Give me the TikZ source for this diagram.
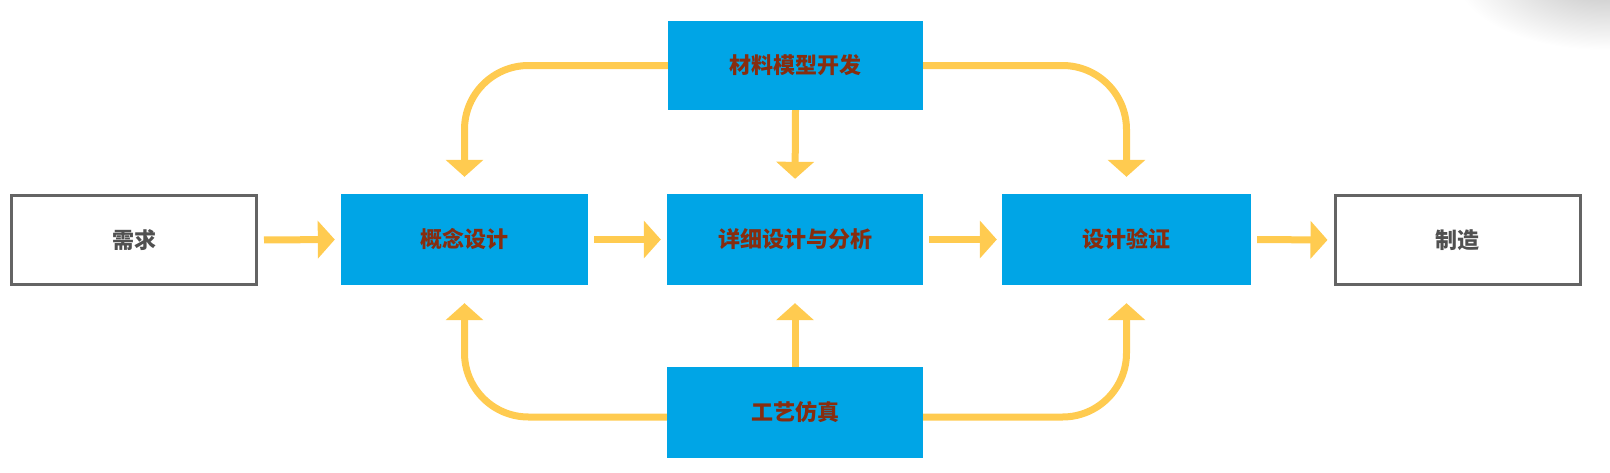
\documentclass[tikz,border=0pt]{standalone}
\usepackage{fontspec}
\setmainfont{Noto Sans CJK SC}
\usetikzlibrary{arrows.meta}
\definecolor{boxblue}{RGB}{0,165,230}
\definecolor{txtred}{RGB}{135,45,15}
\definecolor{arrowyel}{RGB}{255,203,80}
\definecolor{edgegray}{RGB}{100,100,100}
\definecolor{txtgray}{RGB}{80,80,80}
\begin{document}
\begin{tikzpicture}[x=1pt,y=-1pt,
  bluebox/.style={fill=boxblue,draw=none,inner sep=0pt,minimum width=#1,minimum height=91pt,
    font=\fontsize{22pt}{25pt}\selectfont\bfseries,text=txtred},
  graybox/.style={draw=edgegray,line width=3pt,fill=white,inner sep=0pt,minimum width=245pt,minimum height=89pt,
    font=\fontsize{22pt}{25pt}\selectfont\bfseries,text=txtgray},
  arr/.style={draw=arrowyel,line width=7pt,-{Triangle[width=37pt,length=17pt]}}
]
\useasboundingbox (0,0) rectangle (1610,472);
\begin{scope}
\clip (0,0) rectangle (1610,472);
\shade[inner color=black!25,outer color=white] (1605,-25) ellipse [x radius=150, y radius=75];
\end{scope}
\node[graybox] (xq) at (134,240) {需求};
\node[bluebox=247pt] (gn) at (464.5,239.5) {概念设计};
\node[bluebox=256pt] (xx) at (795,239.5) {详细设计与分析};
\node[bluebox=249pt] (yz) at (1126.5,239.5) {设计验证};
\node[graybox] (zz) at (1457.5,240) {制造};
\node[bluebox=255pt,minimum height=89pt] (mat) at (795.5,65.5) {材料模型开发};
\node[bluebox=256pt] (gy) at (795,412.5) {工艺仿真};

\draw[arr,shorten <=6pt,shorten >=6pt] (xq.east) -- (gn.west);
\draw[arr,shorten <=6pt,shorten >=6pt] (gn.east) -- (xx.west);
\draw[arr,shorten <=6pt,shorten >=5pt] (xx.east) -- (yz.west);
\draw[arr,shorten <=6pt,shorten >=6pt] (yz.east) -- (zz.west);

\draw[arr,shorten >=15pt] (mat.south) -- (xx.north);
\draw[arr,shorten >=18pt] (gy.north) -- (xx.south);

\draw[arr,rounded corners=64pt,shorten >=17pt] (mat.west) -| (gn.north);
\draw[arr,rounded corners=64pt,shorten >=17pt] (mat.east) -| (yz.north);
\draw[arr,rounded corners=64pt,shorten >=18pt] ([yshift=-4.5pt]gy.west) -| (gn.south);
\draw[arr,rounded corners=64pt,shorten >=18pt] ([yshift=-4.5pt]gy.east) -| (yz.south);
\end{tikzpicture}
\end{document}
